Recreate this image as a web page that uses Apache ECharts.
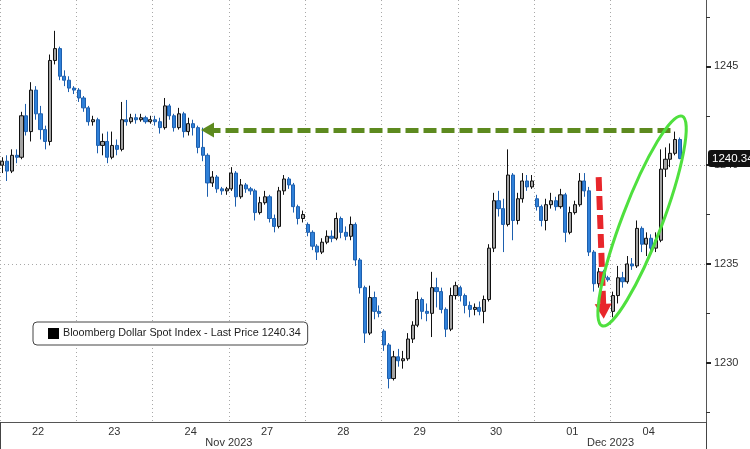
<!DOCTYPE html>
<html><head><meta charset="utf-8">
<script src="https://cdn.jsdelivr.net/npm/echarts@6/dist/echarts.min.js"></script>
<style>html,body{margin:0;padding:0;background:#fff}#c{width:750px;height:449px}</style>
</head><body><div id="c"></div>
<script>
// ---------- data ----------
const days = ['22','23','24','27','28','29','30','01','04'];
const monthLabels = ['Nov 2023','Dec 2023'];
const yTickLabels = [1230, 1235, 1240, 1245];
const yMinorTicks = [1227.5, 1232.5, 1237.5, 1242.5, 1247.5];
const seriesName = 'Bloomberg Dollar Spot Index - Last Price';
const lastPrice = 1240.34;

// [open, close, low, high]
const nov22 = [
[1240.0,1240.2,1239.6,1240.4],[1240.2,1239.7,1239.2,1240.5],[1239.7,1240.5,1239.6,1240.8],[1240.5,1240.4,1240.1,1240.8],
[1240.4,1242.5,1240.3,1242.7],[1242.5,1241.7,1241.5,1243.1],[1241.7,1243.8,1241.2,1244.2],[1243.8,1242.6,1242.3,1244.0],
[1242.6,1241.8,1241.3,1243.0],[1241.8,1241.2,1240.8,1242.0],[1241.2,1245.3,1241.0,1245.6],[1245.3,1245.9,1245.1,1246.8],
[1245.9,1244.5,1244.3,1246.0],[1244.5,1244.3,1244.0,1244.8],[1244.3,1243.9,1243.7,1244.5],[1243.9,1243.8,1243.6,1244.0]];
const nov23 = [
[1243.8,1243.4,1243.2,1243.9],[1243.4,1242.9,1242.7,1243.5],[1242.9,1242.2,1242.0,1243.0],[1242.2,1242.3,1242.0,1242.5],
[1242.3,1241.0,1240.6,1242.4],[1241.0,1241.2,1240.5,1241.6],[1241.2,1240.4,1240.1,1241.7],[1240.4,1241.0,1240.3,1241.7],
[1241.0,1240.8,1240.5,1241.3],[1240.8,1242.3,1240.7,1243.2],[1242.3,1242.2,1242.0,1243.3],[1242.2,1242.4,1242.1,1242.6],
[1242.4,1242.3,1242.1,1242.6],[1242.3,1242.4,1242.2,1242.6],[1242.4,1242.2,1242.1,1242.5],[1242.2,1242.3,1242.1,1242.5]];
const nov24 = [
[1242.3,1242.2,1242.0,1242.5],[1242.2,1241.9,1241.6,1242.4],[1241.9,1243.0,1241.8,1243.4],[1243.0,1242.5,1242.3,1243.1],
[1242.5,1241.9,1241.7,1242.6],[1241.9,1242.6,1241.8,1242.9],[1242.6,1241.7,1241.4,1242.7],[1241.7,1242.1,1241.5,1242.4],
[1242.1,1241.9,1241.5,1242.3],[1241.9,1240.9,1240.6,1242.0],[1240.9,1240.5,1240.2,1241.9],[1240.5,1239.1,1238.4,1240.6],
[1239.1,1239.4,1238.9,1239.7],[1239.4,1238.8,1238.6,1239.5],[1238.8,1238.7,1238.5,1238.9],[1238.7,1238.8,1238.5,1238.9]];
const nov27 = [
[1238.8,1239.6,1238.7,1239.9],[1239.6,1238.4,1237.9,1239.7],[1238.4,1239.0,1238.3,1239.3],[1239.0,1238.8,1238.6,1239.1],
[1238.8,1238.7,1238.5,1238.9],[1238.7,1237.6,1237.2,1238.8],[1237.6,1238.1,1237.5,1238.4],[1238.1,1238.4,1238.0,1238.7],
[1238.4,1237.3,1237.1,1238.5],[1237.3,1236.9,1236.6,1237.5],[1236.9,1238.7,1236.8,1238.9],[1238.7,1239.3,1238.5,1239.5],
[1239.3,1239.0,1238.8,1239.4],[1239.0,1237.9,1237.6,1239.1],[1237.9,1237.3,1237.0,1238.0],[1237.3,1237.5,1237.1,1237.7]];
const nov28 = [
[1237.0,1236.6,1236.4,1237.1],[1236.6,1235.9,1235.7,1236.7],[1235.9,1235.6,1235.2,1236.0],[1235.6,1236.1,1235.5,1236.3],
[1236.1,1236.4,1236.0,1236.7],[1236.4,1236.3,1236.1,1236.7],[1236.3,1237.3,1236.2,1237.6],[1237.3,1236.6,1236.3,1237.4],
[1236.6,1236.4,1236.2,1236.9],[1236.4,1237.0,1236.2,1237.4],[1237.0,1235.2,1234.9,1237.1],[1235.2,1233.8,1233.5,1235.3],
[1233.8,1231.5,1231.0,1233.9],[1231.5,1233.3,1231.4,1233.9],[1233.3,1232.6,1232.2,1233.6],[1232.6,1232.5,1232.3,1232.9]];
const nov29 = [
[1231.6,1230.9,1230.6,1231.7],[1230.9,1229.2,1228.7,1231.0],[1229.2,1230.3,1229.1,1230.6],[1230.3,1230.1,1229.8,1230.7],
[1230.1,1230.2,1229.7,1230.6],[1230.2,1231.2,1230.1,1231.5],[1231.2,1231.9,1231.0,1232.1],[1231.9,1233.2,1231.8,1233.6],
[1233.2,1232.6,1232.2,1233.3],[1232.6,1232.5,1232.1,1233.0],[1232.5,1233.8,1231.3,1234.6],[1233.8,1233.6,1232.8,1234.3],
[1233.6,1232.7,1232.5,1233.8],[1232.7,1231.7,1231.3,1232.8],[1231.7,1233.4,1231.6,1233.8],[1233.4,1233.9,1233.2,1234.1]];
const nov30 = [
[1233.8,1233.4,1233.1,1233.9],[1233.4,1232.9,1232.5,1233.5],[1232.9,1232.7,1232.3,1233.1],[1232.7,1232.8,1232.4,1233.0],
[1232.8,1232.6,1232.4,1233.1],[1232.6,1233.2,1232.0,1233.4],[1233.2,1235.8,1233.1,1236.0],[1235.8,1238.2,1235.6,1238.6],
[1238.2,1237.8,1237.4,1238.7],[1237.8,1237.0,1235.6,1238.3],[1237.0,1239.5,1236.9,1240.8],[1239.5,1237.2,1236.2,1239.6],
[1237.2,1238.3,1237.0,1238.6],[1238.3,1239.2,1238.1,1239.6],[1239.2,1238.9,1238.7,1239.5],[1238.9,1239.2,1238.8,1239.5]];
const dec01 = [
[1238.3,1237.9,1237.7,1238.5],[1237.9,1237.2,1236.9,1238.0],[1237.2,1238.0,1236.7,1238.3],[1238.0,1238.2,1237.8,1238.6],
[1238.2,1237.9,1237.7,1238.4],[1237.9,1238.5,1237.8,1238.8],[1238.5,1236.6,1236.1,1238.6],[1236.6,1237.6,1236.5,1237.9],
[1237.6,1238.0,1237.5,1238.2],[1238.0,1239.2,1237.9,1239.6],[1239.2,1238.7,1238.4,1239.6],[1238.7,1235.6,1235.4,1238.9],
[1235.6,1234.0,1233.6,1235.7],[1234.0,1234.6,1233.8,1234.8],[1234.6,1234.3,1234.0,1234.7],[1234.3,1234.2,1234.1,1234.4]];
const dec04 = [
[1232.6,1233.4,1232.3,1233.6],[1233.4,1234.3,1233.0,1234.9],[1234.3,1234.1,1233.8,1234.6],[1234.1,1235.0,1234.0,1235.4],
[1235.0,1234.9,1234.7,1235.3],[1234.9,1236.8,1234.8,1237.2],[1236.8,1236.0,1235.6,1236.9],[1236.0,1236.3,1235.4,1236.6],
[1236.3,1235.8,1235.5,1236.5],[1235.8,1236.2,1235.6,1236.6],[1236.2,1239.8,1236.1,1240.8],[1239.8,1240.3,1239.4,1240.9],
[1240.3,1240.6,1239.9,1241.1],[1240.6,1241.3,1240.5,1241.7],[1241.3,1240.34,1240.3,1241.4]];

// annotation anchors in data space (category index, value)
const greenArrow = { fromIdx: 43, toIdx: 141, value: 1241.78 };
const redArrow = { fromIdx: 125, fromVal: 1239.4, toIdx: 126, toVal: 1232.6 };
const ellipseEnds = [[125.6, 1231.8], [142.6, 1242.55]];

// ---------- build ----------
const dayBars = [nov22, nov23, nov24, nov27, nov28, nov29, nov30, dec01, dec04];
const BARS = 16, PAD = 4;
const categories = [], ohlc = [];
days.forEach((d, i) => {
  for (let k = 0; k < BARS; k++) {
    categories.push(d + '|' + k);
    ohlc.push(dayBars[i][k] !== undefined ? dayBars[i][k] : '-');
  }
});
for (let k = 0; k < PAD; k++) categories.push('|pad' + k);
const NDAYBARS = days.length * BARS;
const decStart = 7 * BARS;

const FONT = 'Liberation Sans, Arial, sans-serif';
const chart = echarts.init(document.getElementById('c'), null, { renderer: 'canvas' });
chart.setOption({
  animation: false,
  backgroundColor: '#fff',
  textStyle: { fontFamily: FONT },
  grid: { left: 0, right: 44, top: 0, bottom: 27, containLabel: false },
  legend: {
    left: 33, top: 322, orient: 'horizontal',
    backgroundColor: '#fff', borderColor: '#444', borderWidth: 1, borderRadius: 4,
    padding: [6, 7, 6, 15], itemWidth: 9, itemHeight: 9, itemGap: 4,
    textStyle: { fontSize: 10.8, color: '#222', fontFamily: FONT },
    data: [{ name: seriesName, icon: 'rect', itemStyle: { color: '#000', borderColor: '#000' } }],
    formatter: (n) => n + ' ' + lastPrice.toFixed(2)
  },
  xAxis: [{
    type: 'category', data: categories, boundaryGap: true, position: 'bottom',
    axisLine: { lineStyle: { color: '#555', width: 1 } },
    axisTick: { show: false },
    axisLabel: {
      interval: (i) => i % BARS === 8 && i < NDAYBARS,
      formatter: (v) => v.split('|')[0],
      color: '#333', fontSize: 11, margin: 4, padding: [0, 5, 0, 0], fontFamily: FONT
    },
    splitLine: { show: true, interval: (i) => i % BARS === 0 && i < NDAYBARS - BARS + 1, lineStyle: { color: '#a8a8a8', type: [1, 3], width: 1 } }
  }, {
    type: 'category', data: categories, boundaryGap: true, position: 'bottom',
    axisLine: { show: false }, splitLine: { show: false },
    axisTick: { show: true, interval: (i) => i === decStart, length: 27, lineStyle: { color: '#444', width: 1 } },
    axisLabel: {
      interval: (i) => i === 3 * BARS || i === 8 * BARS,
      formatter: (v, i) => (i < decStart ? monthLabels[0] : monthLabels[1]),
      color: '#333', fontSize: 11, margin: 15, padding: [0, 5, 0, 0], fontFamily: FONT
    }
  }],
  yAxis: [{
    type: 'value', position: 'right', min: 1227, max: 1248.36, splitNumber: 4,
    axisLine: { show: true, lineStyle: { color: '#555' } },
    axisTick: { show: true, customValues: yTickLabels, length: 5, lineStyle: { color: '#222', width: 2 } },
    axisLabel: { customValues: yTickLabels, formatter: (v) => String(v), color: '#333', fontSize: 11, margin: 8, fontFamily: FONT },
    splitLine: { show: true, showMinLine: false, showMaxLine: false, lineStyle: { color: '#a8a8a8', type: [1, 3], width: 1 } }
  }, {
    type: 'value', position: 'right', min: 1227, max: 1248.36,
    axisLine: { show: false }, axisLabel: { show: false }, splitLine: { show: false },
    axisTick: { show: true, customValues: yMinorTicks, length: 4, lineStyle: { color: '#333', width: 1 } }
  }],
  series: [{
    type: 'candlestick', name: seriesName, data: ohlc, xAxisIndex: 0, yAxisIndex: 0,
    barWidth: '76%',
    itemStyle: { color: '#a3a3a3', borderColor: '#111', color0: '#2f80d8', borderColor0: '#1d5fae', borderWidth: 1 },
    markLine: {
      silent: true, animation: false, symbol: ['none', 'none'],
      data: [
        { yAxis: lastPrice, lineStyle: { color: 'rgba(0,0,0,0)' },
          label: { show: true, position: 'end', distance: 2, formatter: lastPrice.toFixed(2), backgroundColor: '#111', color: '#fff',
                   fontSize: 11.5, fontFamily: FONT, padding: [3, 2, 2, 4], borderRadius: 3 } },
        [{ coord: [greenArrow.fromIdx, greenArrow.value], symbol: 'triangle', symbolSize: [15, 13],
           lineStyle: { color: '#5d8a1f', width: 5, type: [13, 5] }, label: { show: false } },
         { coord: [greenArrow.toIdx, greenArrow.value], symbol: 'none' }],
        [{ coord: [redArrow.fromIdx, redArrow.fromVal], symbol: 'none',
           lineStyle: { color: '#e8262b', width: 6, type: [14, 5] }, label: { show: false } },
         { coord: [redArrow.toIdx, redArrow.toVal], symbol: 'triangle', symbolSize: [17, 15] }]
      ]
    }
  }]
});

// green ellipse anchored to data space
function px(pt) {
  const i0 = Math.floor(pt[0]), f = pt[0] - i0;
  const a = chart.convertToPixel({ xAxisIndex: 0, yAxisIndex: 0 }, [i0, pt[1]]);
  const b = chart.convertToPixel({ xAxisIndex: 0, yAxisIndex: 0 }, [i0 + 1, pt[1]]);
  return [a[0] + f * (b[0] - a[0]), a[1]];
}
const p1 = px(ellipseEnds[0]), p2 = px(ellipseEnds[1]);
const cx = (p1[0] + p2[0]) / 2, cy = (p1[1] + p2[1]) / 2;
const half = Math.hypot(p2[0] - p1[0], p2[1] - p1[1]) / 2 - 1.5;
const ang = Math.atan2(p1[1] - p2[1], p2[0] - p1[0]);
chart.setOption({
  graphic: [{
    type: 'ellipse', x: cx, y: cy, rotation: ang, z: 100, silent: true,
    shape: { cx: 0, cy: 0, rx: half, ry: 20 },
    style: { fill: 'none', stroke: '#4fe03e', lineWidth: 3 }
  }]
});
</script>
</body></html>
